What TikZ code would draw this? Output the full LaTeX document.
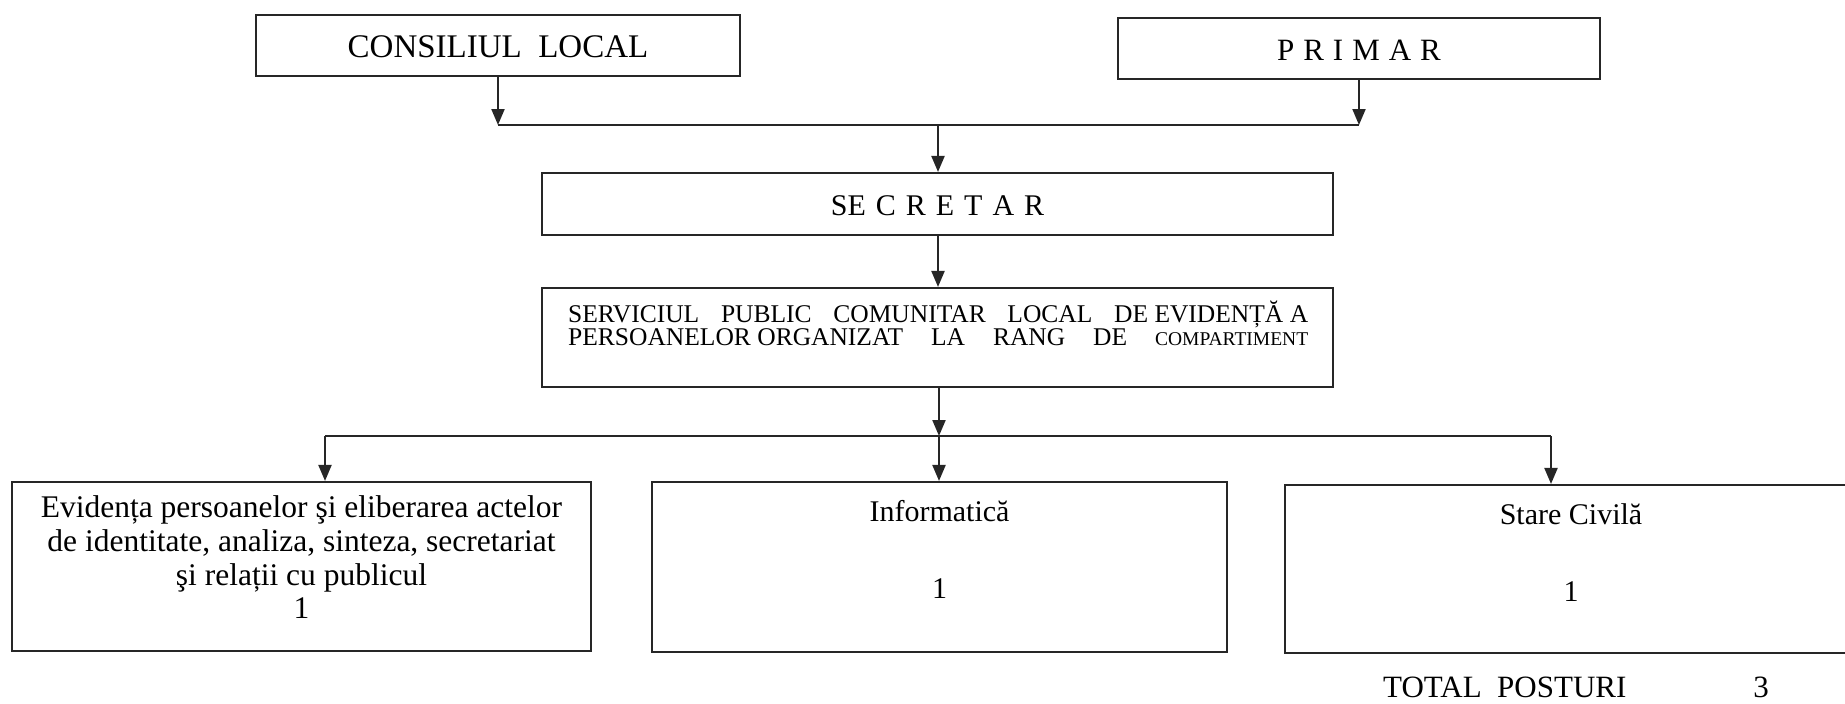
\documentclass[tikz,border=0pt]{standalone}
\usepackage{fontspec}
\setmainfont{Liberation Serif}
\usetikzlibrary{arrows.meta}
\newcommand{\myfs}[1]{\fontsize{#1pt}{#1pt}\selectfont}
\begin{document}
\begin{tikzpicture}[x=1pt,y=-1pt,
  box/.style={draw=black!85,line width=2.1pt,inner sep=0pt,minimum width=#1},
  lbl/.style={inner sep=0pt,anchor=base},
  arr/.style={draw=black!85,line width=2.1pt,-{Triangle[length=16pt,width=13pt]}},
  bus/.style={draw=black!85,line width=2.1pt}]
\useasboundingbox (0,0) rectangle (1845,704);
\clip (0,0) rectangle (1845,704);
% top boxes
\node[box=484pt,minimum height=61pt] (cl) at (498,45.5) {};
\node[lbl] (clt) at (498,57) {\myfs{33}CONSILIUL\ \ LOCAL};
\node[box=482pt,minimum height=61pt] (pr) at (1359,48.5) {};
\node[lbl] (prt) at (1359,60) {\myfs{31}P\kern9pt R\kern9pt I\kern9pt M\kern9pt A\kern9pt R};
% secretar
\node[box=791pt,minimum height=62pt] (sec) at (937.5,204) {};
\node[lbl] (sect) at (937.5,215) {\myfs{30}SE\kern10pt C\kern10pt R\kern10pt E\kern10pt T\kern10pt A\kern10pt R};
% serviciul
\node[box=791pt,minimum height=99pt] (serv) at (937.5,337.5) {};
\node[inner sep=0pt,anchor=base west] (sv1) at (568,322) {\myfs{25.5}\makebox[740pt][l]{SERVICIUL\hfill PUBLIC\hfill COMUNITAR\hfill LOCAL\hfill DE EVIDENȚĂ A}};
\node[inner sep=0pt,anchor=base west] (sv2) at (568,345) {\myfs{25.5}\makebox[740pt][l]{PERSOANELOR ORGANIZAT\hfill LA\hfill RANG\hfill DE\hfill {\myfs{19.5}COMPARTIMENT}}};
% bottom boxes
\node[box=579pt,minimum height=169pt] (ev) at (301.5,566.5) {};
\node[lbl] (ev1) at (301.5,517) {\myfs{31.5}Evidența persoanelor şi eliberarea actelor};
\node[lbl] (ev2) at (301.5,551) {\myfs{31.5}de identitate, analiza, sinteza, secretariat};
\node[lbl] (ev3) at (301.5,585) {\myfs{31.5}şi relații cu publicul};
\node[lbl] (ev4) at (301.5,618) {\myfs{31.5}1};
\node[box=575pt,minimum height=170pt] (inf) at (939.5,567) {};
\node[lbl] (inft) at (939.5,521) {\myfs{30}Informatică};
\node[lbl] (infn) at (939.5,598) {\myfs{30}1};
\node[box=575pt,minimum height=168pt] (sc) at (1572.5,569) {};
\node[lbl] (sct) at (1571,524) {\myfs{30}Stare Civilă};
\node[lbl] (scn) at (1571,601) {\myfs{30}1};
% total
\node[inner sep=0pt,anchor=base west] (tot) at (1383,697) {\myfs{31}TOTAL\ \ POSTURI};
\node[lbl] (totn) at (1761,697) {\myfs{31}3};
% connectors
\coordinate (j1) at (938,125);
\coordinate (j2) at (939,436);
\draw[arr] (cl.south) -- (cl.south |- j1);
\draw[arr] (pr.south) -- (pr.south |- j1);
\draw[bus] (cl.south |- j1) -- (pr.south |- j1);
\draw[arr] (j1) -- (j1 |- sec.north);
\draw[arr] (sec.south -| j1) -- (j1 |- serv.north);
\draw[arr] (serv.south -| j2) -- (j2);
\coordinate (bl) at (325,436);
\coordinate (br) at (1551,436);
\draw[bus] (bl) -- (br);
\draw[arr] (bl) -- (bl |- ev.north);
\draw[arr] (j2) -- (j2 |- inf.north);
\draw[arr] (br) -- (br |- sc.north);
\end{tikzpicture}
\end{document}
